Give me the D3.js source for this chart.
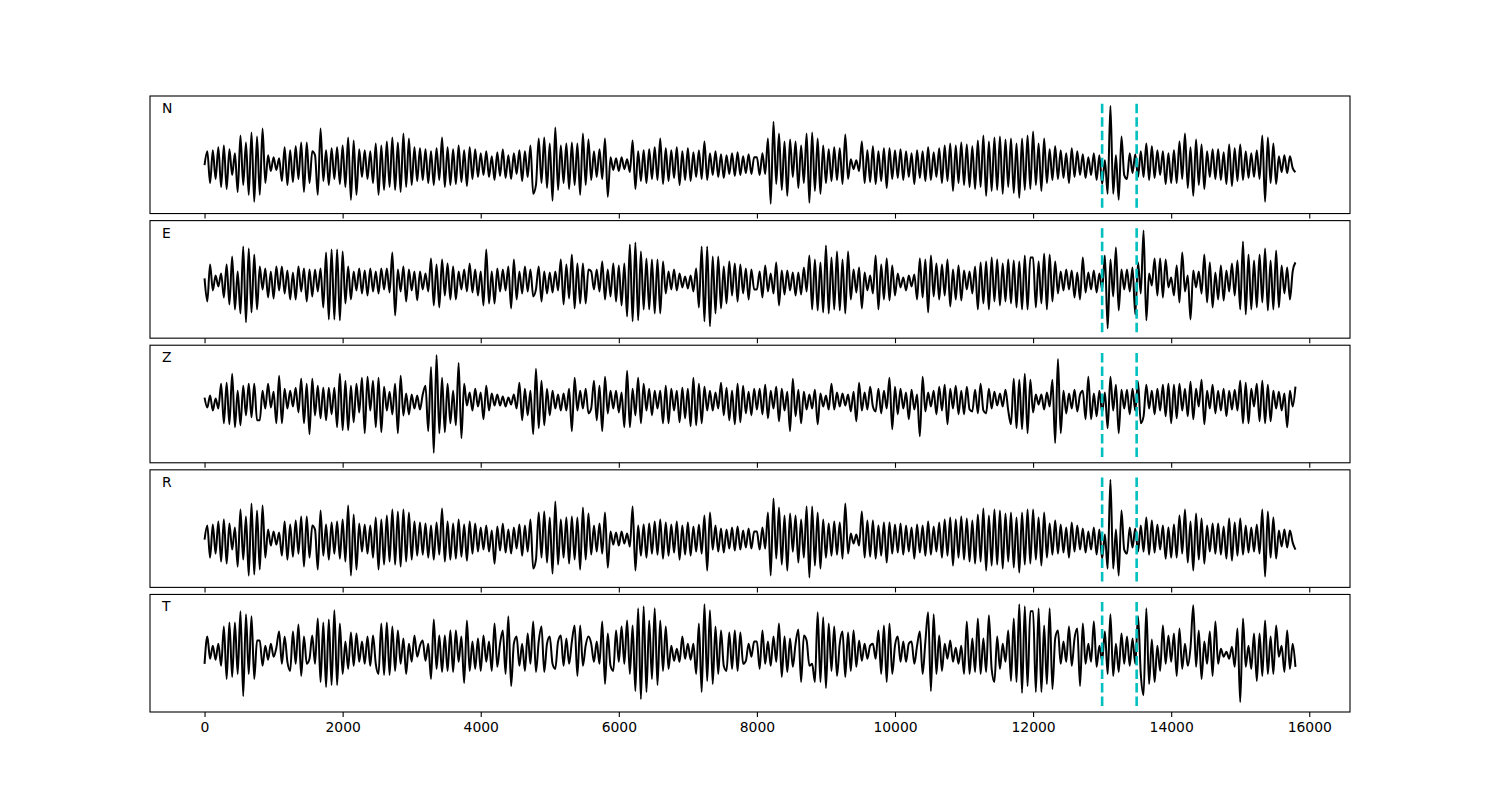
<!DOCTYPE html>
<html><head><meta charset="utf-8">
<script src="https://cdn.jsdelivr.net/npm/d3@7"></script>
<style>body{margin:0;background:#fff}svg{display:block}</style>
</head><body>
<svg id="chart" width="1500" height="800"></svg>
<script>
// ---- data (amplitudes of successive extrema) ----
const componentLabels = ["N", "E", "Z", "R", "T"];
const sampleEnd = 15800;
const xTickValues = [0, 2000, 4000, 6000, 8000, 10000, 12000, 14000, 16000];
const pickTimes = [13000, 13500];

const traceN = [
0,14,-18,15,-14,18,-22,20,-24,16,-10,12,-27,30,-20,23,-30,33,-37,29,
-30,37,-18,10,-6,8,-5,7,-16,18,-20,15,-17,19,-14,23,-27,23,-18,14,
10,-30,37,-16,15,-20,17,-14,18,-19,20,-22,28,-35,25,-30,16,-12,15,-14,
14,-18,22,-30,20,-25,24,-22,28,-25,23,-27,32,-22,27,-20,18,-16,17,-15,
16,-18,14,-20,17,-15,28,-22,18,-20,16,-19,20,-17,15,-21,18,-14,16,-12,
12,-10,14,-12,9,-15,13,-11,16,-13,10,-14,12,-9,15,-16,14,-12,20,-29,
-20,27,-18,28,-23,22,-36,38,-25,20,-18,22,-24,23,-20,22,-30,32,-20,26,
-15,14,-12,16,-14,27,-32,8,-5,7,-6,8,-4,6,-7,25,-24,14,-16,15,
-18,16,-14,18,-15,27,-19,17,-16,15,-13,18,-20,14,-15,17,-16,13,-12,15,
-14,24,-15,12,-10,14,-12,11,-13,10,-9,12,-11,13,-10,9,-8,11,-9,8,
8,-10,12,-9,27,-39,44,-19,32,-25,24,-31,26,-12,24,-23,20,-18,32,-38,
33,-26,27,-29,20,-18,16,-16,18,-15,17,-19,31,-14,6,-4,5,-6,24,-18,
15,-17,19,-19,14,-16,17,-23,17,-14,15,-13,16,-15,14,-12,12,-19,15,-13,
14,-16,18,-15,13,-12,17,-18,20,-16,22,-26,20,-18,23,-20,21,-22,19,-24,
25,-22,30,-31,24,-26,28,-25,29,-29,26,-22,27,-28,22,-33,27,-25,30,-24,
34,-20,22,-26,27,-18,16,-15,19,-14,15,-13,12,-18,17,-12,14,-10,11,-13,
8,-10,12,-15,10,-19,5,-29,60,-29,10,-35,29,-10,-14,12,-8,11,-12,14,
-12,22,-15,19,-13,15,-10,14,-19,12,-18,15,-18,24,-14,32,-23,18,-31,26,
-20,21,-24,14,-12,16,-14,16,-15,13,-19,21,-21,17,-16,21,-15,14,-13,12,
-12,15,-14,30,-37,28,-18,22,-19,9,-7,10,-8,9,-3,-7
];

const traceE = [
3,-20,17,-9,6,-5,8,-16,17,-23,25,-28,10,-32,35,-41,33,-31,27,-28,
15,-8,13,-16,10,-17,15,-9,15,-12,11,-18,9,-18,15,-10,13,-20,12,-15,
12,-10,13,-26,29,-38,32,-38,32,-39,30,-22,15,-18,10,-9,13,-12,11,-14,
13,-10,10,-12,13,-8,13,-11,29,-34,12,-10,15,-20,12,-9,10,-19,10,-8,
8,-10,23,-24,17,-26,22,-14,18,-18,15,-18,10,-8,12,-10,18,-11,12,-14,
10,-24,32,-22,10,-22,13,-10,12,-9,15,-27,22,-18,10,-12,15,-10,12,-15,
-8,15,-20,10,-12,9,-11,10,-9,22,-23,17,-17,27,-27,18,-22,18,-22,12,
10,-8,12,-10,20,-18,12,-15,18,-20,16,-24,18,-35,37,-40,39,-39,30,-28,
23,-28,22,-32,22,-32,20,-12,10,-8,12,-9,8,-6,5,-7,6,-10,13,-26,
35,-40,35,-45,25,-32,25,-27,15,-22,20,-14,18,-20,17,-12,13,-18,12,-8,
-8,10,-16,16,-10,8,-12,19,-24,11,-13,11,-9,9,-14,9,-13,14,-10,26,
-28,22,-29,19,-31,36,-32,24,-28,30,-29,22,-32,30,-18,12,-11,14,-27,9,
-9,6,-12,26,-28,17,-18,23,-19,16,-14,8,-6,4,-9,6,-5,7,-18,23,
-16,22,-31,26,-15,18,-18,17,-14,22,-25,12,-18,16,-19,11,-8,10,-12,15,
-28,19,-22,20,-28,24,-20,22,-24,18,-20,22,-22,21,-26,20,-28,26,-28,24,
24,-26,20,-22,28,-28,27,-20,20,-12,10,-9,12,-8,11,-16,9,-18,24,-11,
9,-8,11,-11,8,-8,26,-47,22,-15,34,-29,12,-8,12,-10,14,-33,19,-12,
51,-39,8,-4,23,-14,23,-16,22,-6,4,-14,16,-21,29,-10,6,-38,11,-6,
10,-12,27,-21,19,-26,9,-18,16,-19,11,-10,18,-14,21,-28,40,-33,27,-28,
21,-26,27,-21,33,-29,21,-28,31,-26,16,-12,14,-18,10,19
];

const traceZ = [
3,-7,5,-10,2,-8,17,-23,18,-24,27,-27,10,-25,15,-15,17,-17,17,-20,
-20,10,-8,17,-7,9,-23,25,-23,12,-8,10,-6,13,-12,22,-23,17,-34,22,
-15,15,-18,13,-20,13,-14,13,-27,27,-30,20,-30,15,-22,17,-12,23,-33,24,
-10,20,-27,23,-32,14,-10,9,-14,17,-33,25,-15,7,-14,6,-8,5,-9,6,
15,-31,34,-53,46,-33,23,-32,17,-23,10,-25,38,-38,17,-5,8,-10,12,-6,
8,-19,15,-10,7,-5,6,-5,4,-6,3,-4,6,-8,18,-20,12,-15,10,-34,
32,-28,20,-25,12,-15,10,-8,6,-10,7,-10,12,-31,23,-10,10,-8,12,-13,
-8,20,-20,15,-31,24,-13,10,-8,10,-12,8,-27,30,-27,12,-15,23,-23,17,
-10,12,-15,10,-8,10,-23,15,-23,12,-10,10,-22,13,-18,12,-26,23,-25,17,
-23,14,-10,10,-10,8,-8,18,-15,13,-20,10,-24,17,-22,15,-13,9,-15,12,
-9,12,-14,16,-18,10,-8,14,-21,12,-10,9,-31,22,-16,11,-23,9,-9,6,
-8,11,-24,7,-6,5,-9,17,-9,8,-6,7,-5,6,-11,9,-21,18,-10,8,
-9,14,-6,-11,12,-13,10,-8,23,-29,14,-14,12,-8,8,-19,11,-9,6,-36,
24,-11,8,-6,10,-14,14,-10,16,-24,12,-8,15,-14,10,-14,14,-9,-11,11,
-13,17,-10,-13,12,-8,9,-5,7,-6,11,-10,-24,22,-28,21,-29,27,-33,21,
-12,6,-4,6,-9,8,-6,21,-43,42,-33,10,-13,7,-8,11,-11,6,10,-19,
24,-19,7,-16,10,-12,8,-28,24,-10,16,-33,11,-8,11,-14,12,-10,19,-23,
-16,16,-8,10,-14,12,-10,16,-16,17,-23,16,-18,17,-10,12,-16,19,-19,12,
-6,21,-24,10,-8,16,-13,10,-10,12,-16,10,-9,11,-10,20,-23,18,-23,12,
-6,17,-21,20,-23,16,-21,10,-8,9,-10,7,-27,10,-6,14
];

const traceR = [
0,14,-18,15,-14,18,-22,20,-24,16,-10,12,-27,30,-20,23,-36,36,-35,29,
-30,34,-18,10,-6,8,-5,7,-16,18,-20,15,-17,19,-14,23,-27,23,-18,14,
10,-30,29,-16,15,-20,17,-14,18,-19,20,-22,34,-36,25,-30,16,-12,15,-14,
14,-18,22,-30,20,-25,24,-22,30,-25,28,-27,30,-22,27,-20,18,-16,17,-15,
16,-18,14,-20,17,-15,31,-22,18,-20,16,-19,20,-17,15,-21,18,-14,16,-12,
12,-10,14,-12,9,-24,13,-11,16,-13,10,-14,12,-9,15,-16,14,-12,20,-29,
-20,27,-18,28,-23,22,-34,38,-25,20,-18,22,-24,23,-20,22,-30,32,-20,26,
-15,14,-12,16,-14,27,-28,8,-5,7,-6,8,-4,6,-7,33,-31,14,-16,15,
-18,16,-14,18,-15,20,-19,17,-16,15,-13,18,-20,14,-15,17,-16,13,-12,15,
-14,24,-31,27,-10,14,-12,11,-13,10,-9,12,-11,13,-10,9,-8,11,-9,8,
8,-10,12,-9,27,-36,41,-19,32,-25,24,-31,26,-12,24,-23,20,-18,33,-38,
33,-26,27,-29,20,-18,16,-16,18,-15,17,-19,36,-14,6,-4,5,-6,28,-18,
19,-17,19,-19,14,-16,17,-23,17,-14,15,-13,16,-15,14,-12,12,-19,15,-13,
14,-16,18,-15,13,-12,17,-18,20,-16,22,-26,20,-18,23,-20,21,-22,19,-24,
25,-22,31,-31,24,-26,30,-25,29,-29,26,-22,27,-28,22,-33,27,-25,30,-24,
30,-20,22,-26,27,-18,16,-15,19,-14,15,-13,12,-18,17,-12,14,-10,11,-13,
8,-10,12,-15,10,-19,5,-29,60,-29,10,-36,29,-10,-14,12,-8,11,-12,14,
-12,22,-15,19,-13,15,-10,14,-19,12,-18,15,-18,24,-14,30,-23,18,-31,26,
-20,21,-24,14,-12,16,-14,16,-15,13,-19,21,-21,17,-16,21,-15,14,-13,12,
-12,15,-14,30,-37,28,-18,22,-19,9,-7,10,-8,9,-3,-10
];

const traceT = [
-10,17,-5,8,-6,10,-12,27,-25,31,-23,31,-20,42,-42,39,-20,37,-25,13,
13,-12,8,-6,10,-3,6,22,-10,17,-8,-17,22,-10,29,-22,17,-10,-5,18,
-10,35,-28,31,-33,34,-31,43,-31,30,-20,12,-15,21,-12,20,-8,12,-10,17,
-12,18,-10,-20,30,-21,31,-21,27,-17,23,-10,15,-20,10,-8,18,-3,8,13,
-7,10,-25,34,-15,18,-18,18,-17,23,-18,23,-8,17,-29,33,-17,12,-15,15,
-17,18,-8,12,-17,30,-13,10,23,-20,37,-32,10,17,-12,10,-17,20,-10,32,
-18,12,27,-18,10,17,-10,-15,12,18,-12,15,-10,12,28,-22,28,-12,8,17,
10,-8,12,-10,32,-30,20,-12,-17,23,-8,27,-10,33,-20,28,-37,45,-45,47,
-38,33,-25,45,-31,33,-17,27,-15,8,-7,5,-8,17,-5,10,-6,10,-20,30,
-38,49,-27,43,-30,27,-20,23,-12,-17,21,-15,23,-17,21,-10,-7,10,-3,12,
12,-15,23,-10,12,-12,17,-8,30,-23,17,-18,15,-13,10,24,-28,18,13,-12,
-10,-28,41,-28,36,-34,30,-17,27,-22,10,22,-23,21,-17,23,-13,13,-7,10,
-5,8,10,-5,23,-20,28,-28,30,-20,8,17,-8,12,-8,10,12,-10,8,22,
-20,12,41,-37,39,-20,18,-17,10,-5,13,-8,6,-10,8,-20,32,-20,15,-18,
35,-20,15,-18,38,-15,-28,17,-15,10,-8,23,-27,35,-28,49,-39,47,-32,42,
42,-38,45,-38,28,-30,45,-35,15,23,-10,12,-8,27,-12,15,25,-32,30,-10,
10,-8,32,-13,8,-7,22,-20,39,-22,10,-18,20,-10,17,-12,15,-10,37,-20,
-41,45,-30,14,-28,8,-17,28,-10,18,-8,20,-22,25,-15,10,-12,6,48,-13,
23,-25,12,-10,22,-22,32,-10,5,-3,2,-5,7,-13,25,-48,35,-13,8,-15,
20,-27,20,-22,33,-20,17,-20,28,-3,8,-18,23,-15,10,-13
];

// ---- layout ----
const traces = [traceN, traceE, traceZ, traceR, traceT];
const plotLeft = 150, plotRight = 1350, plotTop = 96, plotBottom = 712;
const nPanels = traces.length, hspace = 0.06;
const ph = (plotBottom - plotTop) / (nPanels + (nPanels - 1) * hspace);
const gap = ph * hspace;

const svg = d3.select("#chart");
svg.append("rect").attr("width", 1500).attr("height", 800).attr("fill", "#fff");

const xPad = sampleEnd * 0.05;
const x = d3.scaleLinear().domain([-xPad, sampleEnd + xPad]).range([plotLeft, plotRight]);

traces.forEach((tr, i) => {
  const y0 = plotTop + i * (ph + gap);
  const n = tr.length;
  const mn = d3.min(tr), mx = d3.max(tr), rg = mx - mn;
  const y = d3.scaleLinear().domain([mn - 0.1 * rg, mx + 0.1 * rg]).range([y0 + ph, y0]);
  const g = svg.append("g");

  const line = d3.line()
    .x((d, j) => x(j * sampleEnd / (n - 1)))
    .y(d => y(d))
    .curve(d3.curveMonotoneX);

  g.append("path").datum(tr)
    .attr("d", line)
    .attr("fill", "none")
    .attr("stroke", "#000")
    .attr("stroke-width", 2)
    .attr("stroke-linejoin", "round");

  pickTimes.forEach(t => {
    g.append("line")
      .attr("x1", x(t)).attr("x2", x(t))
      .attr("y1", y0 + ph * 0.95).attr("y2", y0 + ph * 0.05)
      .attr("stroke", "#00bfbf")
      .attr("stroke-width", 2.6)
      .attr("stroke-dasharray", "9.5,4");
  });

  const ax = d3.axisBottom(x).tickValues(xTickValues).tickSize(5).tickPadding(5)
    .tickFormat(d3.format("d"));
  if (i < nPanels - 1) ax.tickFormat("");
  const axg = svg.append("g").attr("transform", `translate(0,${y0 + ph})`).call(ax);
  axg.select(".domain").remove();
  axg.selectAll("line").attr("stroke", "#000").attr("stroke-width", 1.1);
  axg.selectAll("text").attr("fill", "#000")
    .style("font-family", "DejaVu Sans, sans-serif").style("font-size", "13.9px");

  svg.append("rect")
    .attr("x", plotLeft).attr("y", y0).attr("width", plotRight - plotLeft).attr("height", ph)
    .attr("fill", "none").attr("stroke", "#000").attr("stroke-width", 1.1);

  svg.append("text")
    .attr("x", plotLeft + 12).attr("y", y0 + 17)
    .style("font-family", "DejaVu Sans, sans-serif").style("font-size", "13.9px")
    .attr("fill", "#000")
    .text(componentLabels[i]);
});
</script>
</body></html>
